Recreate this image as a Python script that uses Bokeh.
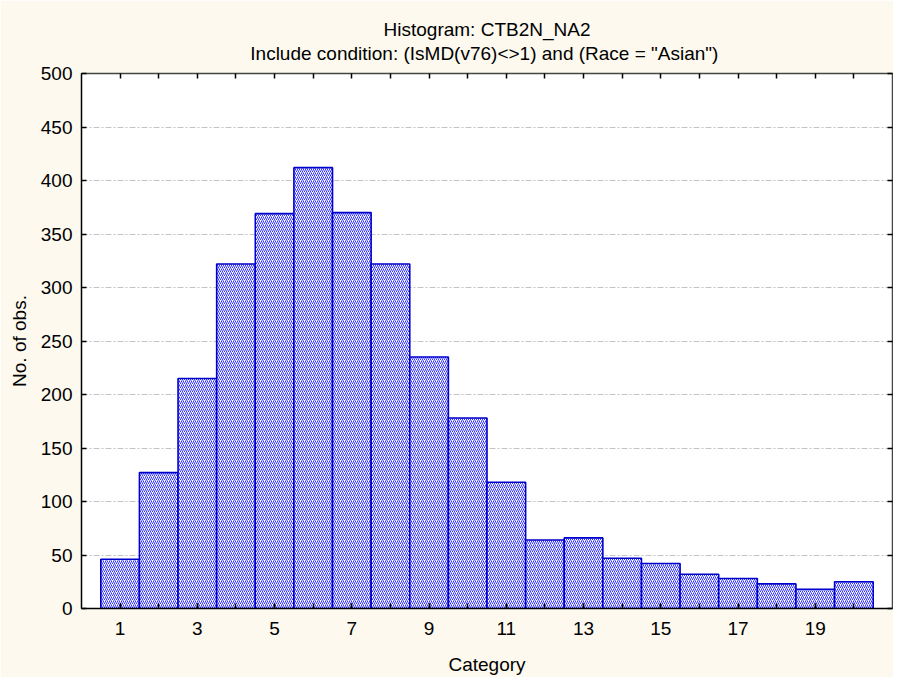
from bokeh.plotting import figure
from bokeh.models import Range1d, FixedTicker, LinearAxis, Title, ColumnDataSource, Grid
from bokeh.embed import file_html
from bokeh.resources import INLINE

categories = list(range(1, 21))
counts = [46, 127, 215, 322, 369, 412, 370, 322, 235, 178, 118, 64, 66, 47, 42, 32, 28, 23, 18, 25]
y_ticks = list(range(0, 501, 50))
x_labeled_ticks = [c for c in categories if c % 2 == 1]

title_line1 = "Histogram: CTB2N_NA2"
title_line2 = 'Include condition: (IsMD(v76)<>1)  and (Race = "Asian")'
x_label = "Category"
y_label = "No. of obs."

FONT = "Liberation Sans"
BG = "#FDF9EE"
FS = "19px"

p = figure(width=893, height=677, output_backend="svg", toolbar_location=None,
           x_range=Range1d(0, 21), y_range=Range1d(0, 500),
           min_border_left=81, min_border_right=1, min_border_top=73, min_border_bottom=67,
           background_fill_color="white", border_fill_color=BG,
           x_axis_location=None, y_axis_location=None)

p.outline_line_color = "#333333"
p.outline_line_width = 1

src = ColumnDataSource(dict(x=categories, top=counts))


def style_axis(ax, line_color="black"):
    ax.major_tick_in = 5
    ax.major_tick_out = 0
    ax.minor_tick_in = 5
    ax.minor_tick_out = 0
    ax.axis_line_color = line_color
    ax.axis_line_width = 1.5
    ax.major_tick_line_color = "black"
    ax.major_tick_line_width = 1.5
    ax.minor_tick_line_color = "black"
    ax.minor_tick_line_width = 1.5
    ax.major_label_text_font = FONT
    ax.major_label_text_font_size = FS
    ax.major_label_text_color = "black"
    ax.axis_label_text_font = FONT
    ax.axis_label_text_font_size = FS
    ax.axis_label_text_font_style = "normal"
    ax.axis_label_text_color = "black"


xb = LinearAxis(ticker=FixedTicker(ticks=x_labeled_ticks, minor_ticks=categories), axis_label=x_label)
style_axis(xb)
xb.major_label_standoff = 13
xb.axis_label_standoff = 16
p.add_layout(xb, "below")

yl = LinearAxis(ticker=FixedTicker(ticks=y_ticks), axis_label=y_label)
style_axis(yl)
yl.major_label_standoff = 9
yl.axis_label_standoff = 8
p.add_layout(yl, "left")

xt = LinearAxis(ticker=FixedTicker(ticks=[], minor_ticks=categories))
style_axis(xt, "#444444")
xt.major_label_standoff = 0
p.add_layout(xt, "above")

yr = LinearAxis(ticker=FixedTicker(ticks=[], minor_ticks=y_ticks))
style_axis(yr, "#444444")
yr.major_label_standoff = 0
p.add_layout(yr, "right")

p.add_layout(Title(text=title_line2, align="center", text_font=FONT, text_font_size=FS,
                   text_font_style="normal", text_color="black", standoff=20), "above")
p.add_layout(Title(text=title_line1, align="center", text_font=FONT, text_font_size=FS,
                   text_font_style="normal", text_color="black", standoff=-18), "above")

p.xgrid.visible = False
p.ygrid.visible = False
g = Grid(dimension=1, ticker=FixedTicker(ticks=y_ticks), grid_line_color="#c4c4c4",
         grid_line_dash="6 2 2 2", grid_line_width=1)
p.add_layout(g, "center")

p.vbar(x="x", top="top", width=1.0, source=src, fill_color="white",
       line_color="#0000CC", line_width=1.6,
       hatch_pattern="/", hatch_color="#3030ff", hatch_scale=4, hatch_weight=1.0)

open("out.html", "w").write(file_html(p, INLINE))
